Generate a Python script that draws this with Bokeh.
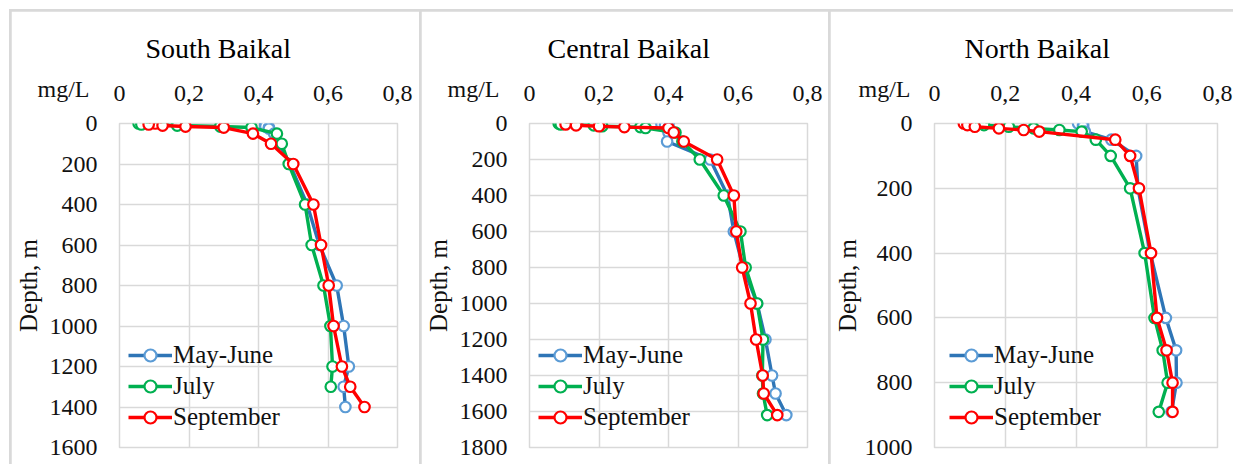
from bokeh.plotting import figure
from bokeh.models import Range1d, FixedTicker, Title
from bokeh.layouts import row
from bokeh.embed import file_html
from bokeh.resources import INLINE

# ---------------- data ----------------
series_names = ["May-June", "July", "September"]
x_ticks = [0, 0.2, 0.4, 0.6, 0.8]
x_tick_labels = ["0", "0,2", "0,4", "0,6", "0,8"]

# South Baikal
south_depth_may = [0, 5, 10, 15, 20, 25, 50, 100, 200, 400, 600, 800, 1000, 1200, 1300, 1400]
south_may = [0.42, 0.42, 0.42, 0.42, 0.43, 0.43, 0.445, 0.46, 0.49, 0.54, 0.575, 0.625, 0.645, 0.66, 0.645, 0.65]
south_depth_jul = [0, 5, 10, 15, 20, 50, 100, 200, 400, 600, 800, 1000, 1200, 1300]
south_jul = [0.055, 0.063, 0.166, 0.29, 0.38, 0.453, 0.467, 0.487, 0.534, 0.553, 0.587, 0.607, 0.613, 0.608]
south_depth_sep = [0, 5, 10, 15, 20, 50, 100, 200, 400, 600, 800, 1000, 1200, 1300, 1400]
south_sep = [0.103, 0.084, 0.124, 0.19, 0.30, 0.384, 0.436, 0.50, 0.558, 0.58, 0.602, 0.616, 0.64, 0.664, 0.705]

# Central Baikal
central_depth_may = [0, 5, 10, 25, 50, 100, 200, 400, 600, 800, 1000, 1200, 1400, 1500, 1620]
central_may = [0.40, 0.38, 0.39, 0.40, 0.40, 0.396, 0.52, 0.57, 0.588, 0.615, 0.655, 0.679, 0.698, 0.708, 0.739]
central_depth_jul = [0, 5, 10, 15, 20, 25, 50, 100, 200, 400, 600, 800, 1000, 1200, 1400, 1500, 1620]
central_jul = [0.084, 0.09, 0.185, 0.209, 0.319, 0.334, 0.42, 0.44, 0.49, 0.559, 0.607, 0.622, 0.655, 0.672, 0.67, 0.672, 0.684]
central_depth_sep = [0, 5, 10, 15, 20, 25, 50, 100, 200, 400, 600, 800, 1000, 1200, 1400, 1500, 1620]
central_sep = [0.137, 0.104, 0.134, 0.20, 0.273, 0.40, 0.415, 0.444, 0.54, 0.588, 0.595, 0.612, 0.636, 0.652, 0.671, 0.674, 0.713]

# North Baikal
north_depth_may = [0, 5, 10, 25, 50, 100, 200, 400, 600, 700, 800, 890]
north_may = [0.406, 0.42, 0.42, 0.425, 0.50, 0.57, 0.575, 0.61, 0.654, 0.683, 0.684, 0.67]
north_depth_jul = [0, 5, 10, 15, 20, 25, 50, 100, 200, 400, 600, 700, 800, 890]
north_jul = [0.132, 0.14, 0.21, 0.28, 0.353, 0.416, 0.456, 0.498, 0.553, 0.594, 0.622, 0.645, 0.659, 0.634]
north_depth_sep = [0, 5, 10, 15, 20, 25, 50, 100, 200, 400, 600, 700, 800, 890]
north_sep = [0.083, 0.093, 0.114, 0.182, 0.252, 0.296, 0.511, 0.553, 0.578, 0.612, 0.629, 0.656, 0.673, 0.673]

# ---------------- style ----------------
FONT = "Liberation Serif, DejaVu Serif, serif"
GRID = "#d9d9d9"
TEXT = "#111111"
LINE_COLORS = ["#2E75B6", "#00B050", "#FF0000"]
MARKER_COLORS = ["#5B9BD5", "#00B050", "#FF0000"]
H, T, B = 453, 111, 17


def panel(title, ymax, series, W, L, R, legend_x, title_off, mg_off, ylab_standoff):
    p = figure(width=W, height=H, x_range=Range1d(0, 0.8), y_range=Range1d(ymax, 0),
               x_axis_location="above", output_backend="svg", toolbar_location=None,
               min_border_left=L, min_border_right=R, min_border_top=T, min_border_bottom=B,
               background_fill_color="white", border_fill_color="white")
    p.outline_line_color = GRID
    p.outline_line_width = 1.5

    xa = p.xaxis[0]
    xa.ticker = FixedTicker(ticks=x_ticks)
    xa.major_label_overrides = {t: s for t, s in zip(x_ticks, x_tick_labels)}
    xa.major_label_standoff = 23
    ya = p.yaxis[0]
    ya.ticker = FixedTicker(ticks=list(range(0, ymax + 1, 200)))
    ya.major_label_standoff = 22
    for ax in (xa, ya):
        ax.axis_line_color = None
        ax.major_tick_line_color = None
        ax.minor_tick_line_color = None
        ax.major_tick_out = 0
        ax.major_tick_in = 0
        ax.minor_tick_out = 0
        ax.major_label_text_font = FONT
        ax.major_label_text_font_size = "24px"
        ax.major_label_text_color = TEXT
    ya.axis_label = "Depth, m"
    ya.axis_label_text_font = FONT
    ya.axis_label_text_font_size = "25px"
    ya.axis_label_text_font_style = "normal"
    ya.axis_label_text_color = TEXT
    ya.axis_label_standoff = ylab_standoff

    p.xgrid.ticker = FixedTicker(ticks=[0.2, 0.4, 0.6])
    p.ygrid.ticker = FixedTicker(ticks=list(range(200, ymax, 200)))
    for g in (p.xgrid, p.ygrid):
        g.grid_line_color = GRID
        g.grid_line_width = 1.5

    for (name, depth, vals), lc, mc in zip(series, LINE_COLORS, MARKER_COLORS):
        p.line(vals, depth, line_color=lc, line_width=3.4, legend_label=name)
        p.scatter(vals, depth, marker="circle", size=10.5, fill_color="white",
                  line_color=mc, line_width=2.2, legend_label=name)

    lg = p.legend[0]
    lg.location = (legend_x, 15)
    lg.label_text_font = FONT
    lg.label_text_font_size = "25px"
    lg.label_text_color = TEXT
    lg.glyph_width = 44
    lg.glyph_height = 30
    lg.label_height = 30
    lg.label_standoff = 1
    lg.spacing = 1
    lg.padding = 0
    lg.margin = 0
    lg.background_fill_alpha = 0
    lg.border_line_color = None

    # unit label on the same row as the x tick labels
    p.add_layout(Title(text="mg/L", align="left", offset=mg_off, standoff=-38,
                       vertical_align="bottom", text_font=FONT, text_font_size="24px",
                       text_font_style="normal", text_color=TEXT), "above")
    # panel title
    p.add_layout(Title(text=title, align="left", offset=title_off, standoff=38,
                       vertical_align="bottom", text_font=FONT, text_font_size="28px",
                       text_font_style="normal", text_color="black"), "above")
    return p


p1 = panel("South Baikal", 1600,
           [("May-June", south_depth_may, south_may), ("July", south_depth_jul, south_jul),
            ("September", south_depth_sep, south_sep)],
           W=408, L=108, R=22, legend_x=9, title_off=26, mg_off=-82, ylab_standoff=5)
p2 = panel("Central Baikal", 1800,
           [("May-June", central_depth_may, central_may), ("July", central_depth_jul, central_jul),
            ("September", central_depth_sep, central_sep)],
           W=407, L=108, R=21, legend_x=9, title_off=18, mg_off=-82, ylab_standoff=5)
p3 = panel("North Baikal", 1000,
           [("May-June", north_depth_may, north_may), ("July", north_depth_jul, north_jul),
            ("September", north_depth_sep, north_sep)],
           W=403, L=103, R=16, legend_x=15, title_off=30, mg_off=-76, ylab_standoff=1)

p1.margin = (2, 0, 0, 2)
p2.margin = (2, 0, 0, 0)
p3.margin = (2, 0, 0, 0)

layout = row(p1, p2, p3, spacing=2, margin=(9, 0, 0, 9),
             styles={"background-color": "#d9d9d9"})
open("out.html", "w").write(file_html(layout, INLINE))
